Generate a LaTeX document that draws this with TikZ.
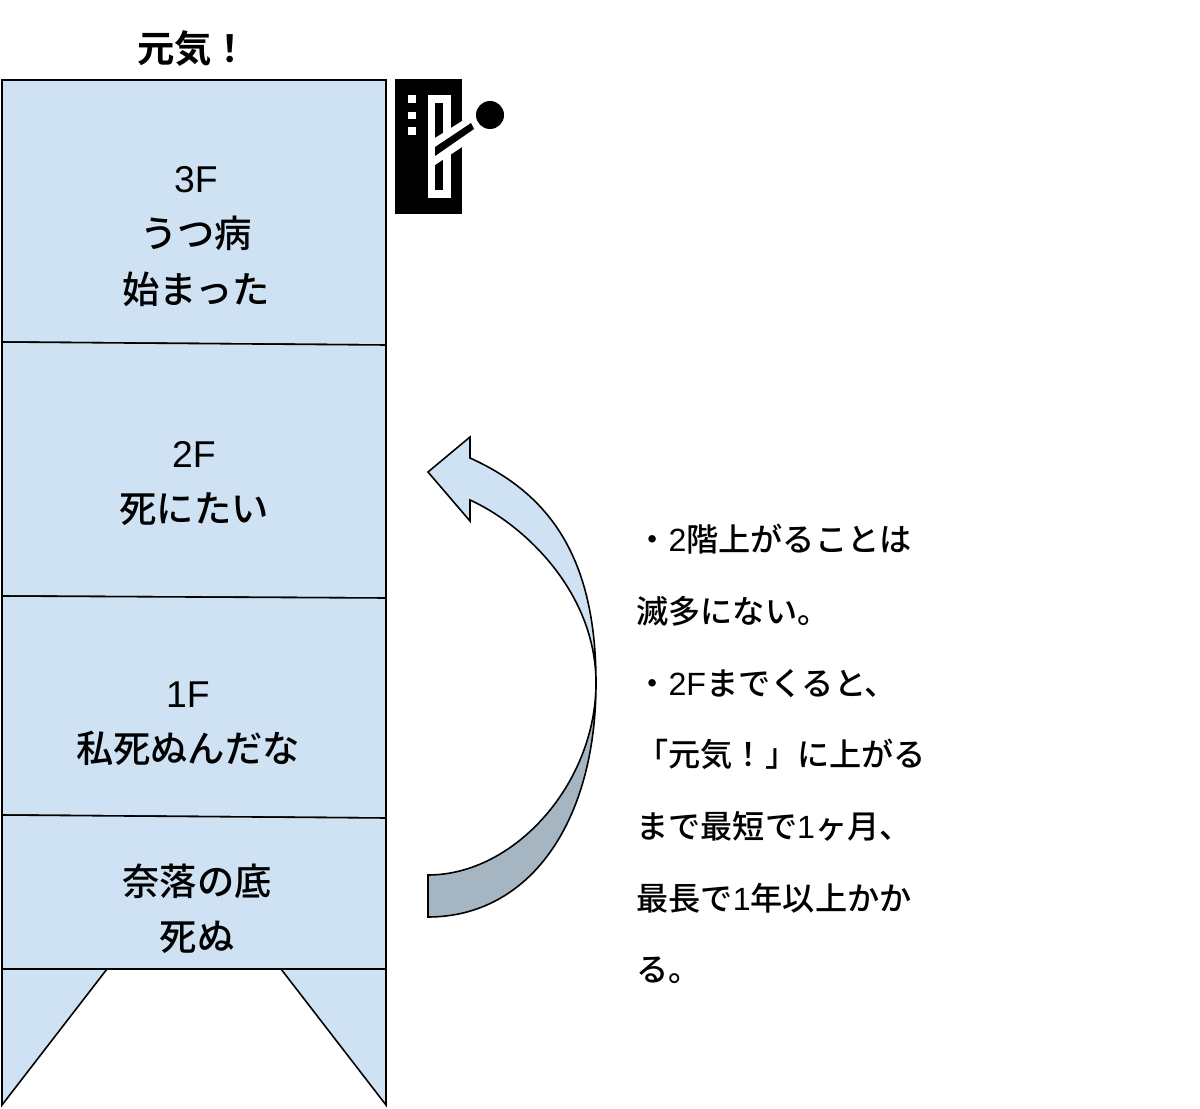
\documentclass[tikz,border=0pt]{standalone}
\usepackage{fontspec}
\setmainfont{Noto Sans CJK JP Medium}
\newfontfamily\headfont{Noto Sans CJK JP Bold}
\newfontfamily\latinfont{Liberation Sans}
\newcommand{\lat}[1]{{\latinfont #1}}
\definecolor{floorblue}{HTML}{CFE2F3}
\definecolor{arrowgrey}{HTML}{A6B5C2}
\tikzset{
  outline/.style={draw=black,line width=0.95pt,line join=miter},
  floorbox/.style={outline,fill=floorblue},
  floortext/.style={align=center,inner sep=0pt,font=\fontsize{22.4}{33.2}\selectfont},
  headtext/.style={align=center,inner sep=0pt,font=\fontsize{22.4}{33.2}\selectfont\headfont},
  notetext/.style={align=left,anchor=north west,inner sep=0pt,font=\fontsize{19.3}{43}\selectfont},
  iconblack/.style={fill=black,draw=none},
  iconwhite/.style={fill=white,draw=none}
}
\begin{document}
\begin{tikzpicture}[x=0.6pt,y=-0.6pt]
\useasboundingbox (0,0) rectangle (1200,1109);
% building
\draw[floorbox] (2,80) -- (386,80) -- (386,345) -- (2,342) -- cycle;
\draw[floorbox] (2,342) -- (386,345) -- (386,598) -- (2,596) -- cycle;
\draw[floorbox] (2,596) -- (386,598) -- (386,818) -- (2,815) -- cycle;
\draw[floorbox] (2,815) -- (386,818) -- (386,969) -- (2,969) -- cycle;
\draw[floorbox] (2,969) -- (107,969) -- (2,1105) -- cycle;
\draw[floorbox] (281,969) -- (386,969) -- (386,1105) -- cycle;
% labels
\node[headtext] (top) at (193,48.5) {元気！};
\node[floortext] (f3) at (196,236.5) {\lat{3F}\\うつ病\\始まった};
\node[floortext] (f2) at (194,483.5) {\lat{2F}\\死にたい};
\node[floortext] (f1) at (188,723.5) {\lat{1F}\\私死ぬんだな};
\node[floortext] (f0) at (197,909) {奈落の底\\死ぬ};
% icon
\fill[iconblack] (395,79) rectangle (462,214);
\fill[iconwhite] (408,95) rectangle (416,103);
\fill[iconwhite] (408,112) rectangle (416,119);
\fill[iconwhite] (408,127) rectangle (416,135);
\fill[iconwhite] (428,95) rectangle (451,198);
\fill[iconblack] (435,103) rectangle (443,190);
\fill[iconwhite] (435,138) -- (462,121) -- (462,147) -- (435,165) -- cycle;
\fill[iconblack] (435,147) -- (471,123) -- (474,129) -- (435,156) -- cycle;
\fill[iconblack] (490,115) circle [x radius=14,y radius=14];
% curved arrow
\draw[outline,fill=floorblue] (428,472) -- (470,437) -- (470,458)
  .. controls (550,494) and (596,558) .. (596,683)
  .. controls (596,593) and (525,525) .. (470,500) -- (470,521) -- cycle;
\draw[outline,fill=arrowgrey] (596,683)
  .. controls (596,823) and (529,917) .. (428,917) -- (428,875)
  .. controls (515,875) and (596,783) .. (596,683) -- cycle;
% note
\node[notetext] (note) at (636,524) {・\lat{2}階上がることは\\滅多にない。\\・\lat{2F}までくると、\\「元気！」に上がる\\まで最短で\lat{1}ヶ月、\\最長で\lat{1}年以上かか\\る。};
\end{tikzpicture}
\end{document}
